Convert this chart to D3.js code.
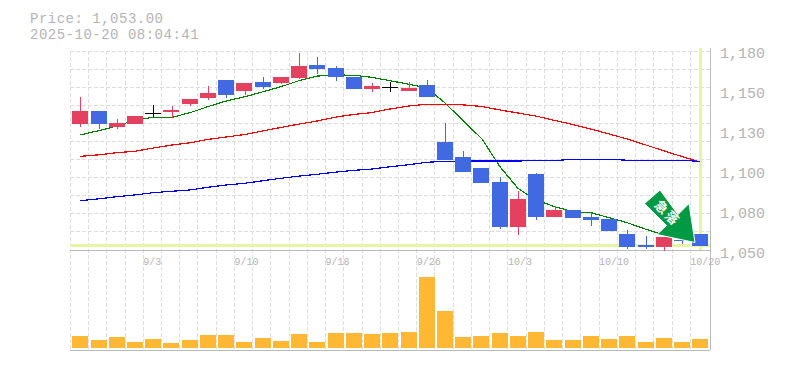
<!DOCTYPE html>
<html>
<head>
<meta charset="utf-8">
<script src="https://cdn.jsdelivr.net/npm/d3@7"></script>
<style>
    body { margin: 0; background: #fff; }
    text { font-family: "Liberation Mono", monospace; fill: #b4b4b4; }
</style>
</head>
<body>
<div id="chart"></div>
<script>
// Trading days shown on the chart
const dates = ['8/28', '8/29', '9/1', '9/2', '9/3', '9/4', '9/5', '9/8', '9/9', '9/10', '9/11', '9/12', '9/16', '9/17', '9/18', '9/19', '9/22', '9/24', '9/25', '9/26', '9/29', '9/30', '10/1', '10/2', '10/3', '10/6', '10/7', '10/8', '10/9', '10/10', '10/14', '10/15', '10/16', '10/17', '10/20'];
const dateLabels = ['9/3', '9/10', '9/18', '9/26', '10/3', '10/10', '10/20'];
const priceTicks = [1180, 1155, 1130, 1105, 1080, 1055];

// Candles
const opens = [1129.1, 1137.1, 1127.1, 1129.1, 1135.8, 1136.4, 1141.4, 1145.2, 1156.4, 1149.6, 1155.2, 1154.6, 1157.7, 1165.8, 1163.9, 1158.3, 1150.8, 1152.3, 1149.6, 1153.3, 1117.7, 1108.3, 1101.4, 1092.7, 1064.6, 1097.7, 1070.8, 1075.2, 1070.8, 1069.6, 1060.2, 1053.3, 1052.1, 1056.4, 1060.2];
const highs = [1145.8, 1137.1, 1132.1, 1133.9, 1140.8, 1140.2, 1144.6, 1152.7, 1156.4, 1154.6, 1158.3, 1158.3, 1173.3, 1170.8, 1165.2, 1158.3, 1154.6, 1155.2, 1155.2, 1156.4, 1129.6, 1112.1, 1101.4, 1095.8, 1087.1, 1098.3, 1077.7, 1075.2, 1073.3, 1069.6, 1062.7, 1058.9, 1058.3, 1056.4, 1060.2];
const lows = [1127.1, 1125.6, 1125.8, 1129.1, 1133.1, 1132.9, 1140.2, 1143.9, 1145.2, 1147.1, 1150.8, 1153.9, 1157.1, 1160.2, 1155.8, 1150.8, 1148.9, 1148.9, 1149.6, 1145.8, 1106.4, 1098.9, 1092.1, 1063.3, 1059.6, 1068.9, 1070.8, 1070.2, 1065.2, 1062.1, 1050.8, 1050.8, 1049.6, 1053.9, 1053];
const closes = [1137.1, 1129.1, 1129.6, 1133.9, 1135.8, 1137.7, 1144.6, 1148.3, 1147.1, 1154.6, 1152.1, 1158.3, 1165.2, 1163.3, 1158.3, 1150.8, 1152.7, 1152.3, 1151.4, 1145.8, 1106.4, 1098.9, 1092.1, 1064.6, 1082.1, 1070.8, 1075.2, 1070.2, 1068.9, 1062.1, 1052.1, 1052.1, 1058.3, 1055.8, 1053];

// Moving averages
const maShort = [1122.1, 1124.8, 1127.7, 1131.4, 1133.1, 1133.1, 1136.0, 1139.8, 1143.3, 1146.0, 1149.1, 1152.3, 1156.0, 1158.9, 1159.6, 1159.4, 1158.1, 1156.0, 1153.8, 1151.4, 1142.1, 1131.0, 1119.6, 1102.2, 1088.7, 1081.4, 1077.2, 1074.1, 1073.5, 1070.4, 1067.3, 1063.1, 1059.6, 1057.1, 1053.9];
const maMid = [1108.7, 1109.7, 1111.0, 1111.9, 1113.9, 1115.8, 1117.2, 1119.3, 1120.8, 1122.4, 1124.6, 1126.8, 1128.9, 1130.8, 1133.3, 1134.9, 1136.1, 1138.3, 1140.2, 1141.3, 1141.3, 1140.9, 1139.9, 1137.7, 1135.8, 1133.9, 1131.1, 1128.6, 1125.8, 1122.7, 1119.6, 1115.8, 1112.1, 1108.6, 1105.2];
const maLong = [1081.0, 1082.2, 1083.5, 1084.6, 1086.0, 1086.9, 1087.7, 1089.4, 1090.8, 1091.9, 1093.5, 1095.0, 1096.4, 1097.5, 1098.9, 1100.0, 1100.8, 1102.2, 1103.5, 1105.0, 1105.6, 1105.8, 1105.8, 1105.8, 1105.8, 1106.1, 1106.1, 1106.9, 1106.9, 1106.9, 1106.3, 1106.3, 1106.3, 1106.3, 1105.5];

const volumes = [12, 8, 11, 6, 9, 5, 8, 13, 13, 6, 10, 7, 14, 6, 15, 15, 14, 15, 16, 71, 37, 11, 12, 15, 12, 16, 8, 8, 12, 9, 12, 6, 10, 6, 9];

const lastPrice = 1053;
const gridRows = d3.range(12);

const up = '#e4405f';
const down = '#4169e1';

const svg = d3.select('#chart').append('svg')
    .attr('width', 785)
    .attr('height', 370)
    .style('display', 'block');

const x = d3.scaleBand().domain(dates).range([70.3, 708.5]);
const y = d3.scaleLinear().domain([1053, 1180]).range([245.5, 42.3]);
const yVol = d3.scaleLinear().domain([0, 71]).range([348, 277]);
const yGrid = d3.scalePoint().domain(gridRows).range([51, 250]);

const cx = i => Math.round(x(dates[i]) + x.bandwidth() / 2 + 1);
const barLeft = i => Math.round(x(dates[i]) + 2);

// Header
svg.append('text').attr('x', 30).attr('y', 22.5)
    .style('font-size', '14px').style('letter-spacing', '0.5px').text('Price: 1,053.00');
svg.append('text').attr('x', 30).attr('y', 38.5)
    .style('font-size', '14px').style('letter-spacing', '0.5px').text('2025-10-20 08:04:41');

// Grid
const grid = svg.append('g')
    .attr('stroke', '#ddd')
    .attr('stroke-dasharray', '4,2')
    .attr('shape-rendering', 'crispEdges');

grid.selectAll('.row').data(gridRows.slice(0, -1)).join('line')
    .attr('class', 'row')
    .attr('x1', 70).attr('x2', 710)
    .attr('y1', d => yGrid(d)).attr('y2', d => yGrid(d));

grid.selectAll('.col').data(dates).join('line')
    .attr('class', 'col')
    .attr('x1', d => x(d)).attr('x2', d => x(d))
    .attr('y1', 51).attr('y2', 350);

// Frame
const frame = svg.append('g').attr('stroke', '#bbb').attr('shape-rendering', 'crispEdges');
frame.append('line').attr('x1', 70).attr('x2', 710).attr('y1', 250.5).attr('y2', 250.5);
frame.append('line').attr('x1', 70).attr('x2', 710).attr('y1', 350.5).attr('y2', 350.5);
frame.append('line').attr('x1', 710.5).attr('x2', 710.5).attr('y1', 48).attr('y2', 350);

// Current price marker
const marker = svg.append('g').attr('stroke', '#e4f5a6').attr('stroke-width', 3).attr('shape-rendering', 'crispEdges');
marker.append('line').attr('x1', 70).attr('x2', 710).attr('y1', y(lastPrice)).attr('y2', y(lastPrice));
marker.append('line').attr('x1', cx(34)).attr('x2', cx(34)).attr('y1', 48).attr('y2', 250);

// Moving average lines
const line = d3.line().x((d, i) => cx(i)).y(d => y(d));
[[maShort, '#008000'], [maMid, '#ff0000'], [maLong, '#0000ff']].forEach(([values, color]) => {
    svg.append('path')
        .datum(values)
        .attr('fill', 'none')
        .attr('stroke', color)
        .attr('stroke-width', 1.2)
        .attr('shape-rendering', 'crispEdges')
        .attr('d', line);
});

// Candles
const candleColor = i => closes[i] > opens[i] ? up : closes[i] < opens[i] ? down : '#000';
const candles = svg.append('g').attr('shape-rendering', 'crispEdges');

candles.selectAll('.wick').data(dates).join('line')
    .attr('class', 'wick')
    .attr('x1', (d, i) => cx(i) + 0.5).attr('x2', (d, i) => cx(i) + 0.5)
    .attr('y1', (d, i) => y(highs[i])).attr('y2', (d, i) => y(lows[i]))
    .attr('stroke', (d, i) => candleColor(i));

candles.selectAll('.body').data(dates).join('rect')
    .attr('class', 'body')
    .attr('x', (d, i) => barLeft(i))
    .attr('y', (d, i) => y(Math.max(opens[i], closes[i])))
    .attr('width', 16)
    .attr('height', (d, i) => Math.max(1, Math.abs(y(opens[i]) - y(closes[i]))))
    .attr('fill', (d, i) => candleColor(i));

// Volume
svg.append('g').selectAll('rect').data(dates).join('rect')
    .attr('x', (d, i) => barLeft(i))
    .attr('y', (d, i) => yVol(volumes[i]))
    .attr('width', 16)
    .attr('height', (d, i) => yVol(0) - yVol(volumes[i]))
    .attr('fill', '#ffb833');

// Axes
const priceAxis = d3.axisRight(y)
    .tickValues(priceTicks)
    .tickSize(0)
    .tickPadding(10)
    .tickFormat(d => d3.format(',')(Math.floor(d / 10) * 10));
const gPrice = svg.append('g').attr('transform', 'translate(710,10)').call(priceAxis);
gPrice.select('.domain').remove();
gPrice.selectAll('text').style('font-size', '15px').attr('fill', null);

const dateAxis = d3.axisBottom(x).tickValues(dateLabels).tickSize(0).tickPadding(0);
const gDate = svg.append('g').attr('transform', 'translate(0,258)').call(dateAxis);
gDate.select('.domain').remove();
gDate.selectAll('text')
    .style('font-size', '10px')
    .attr('fill', null)
    .attr('text-anchor', 'start')
    .attr('dx', -x.bandwidth() / 2);

// Signal arrow, placed from the last candle
const arrowShape = [[-40, -55.5], [-55.5, -42], [-33.5, -20], [-43, -11], [-5, -3], [-11, -42], [-22, -31]];
const arrow = svg.append('g').attr('transform', `translate(${cx(34)},${y(lastPrice)})`);
arrow.append('path')
    .attr('d', d3.line()(arrowShape) + 'Z')
    .attr('fill', '#009944')
    .attr('stroke', '#fff')
    .attr('stroke-width', 1);
arrow.append('text')
    .attr('transform', 'translate(-32,-33) rotate(45)')
    .attr('text-anchor', 'middle')
    .attr('dominant-baseline', 'central')
    .style('font-family', '"Noto Sans CJK JP"')
    .style('font-weight', 700)
    .style('font-size', '13px')
    .style('letter-spacing', '2px')
    .style('fill', '#fff')
    .text('急落');
</script>
</body>
</html>
